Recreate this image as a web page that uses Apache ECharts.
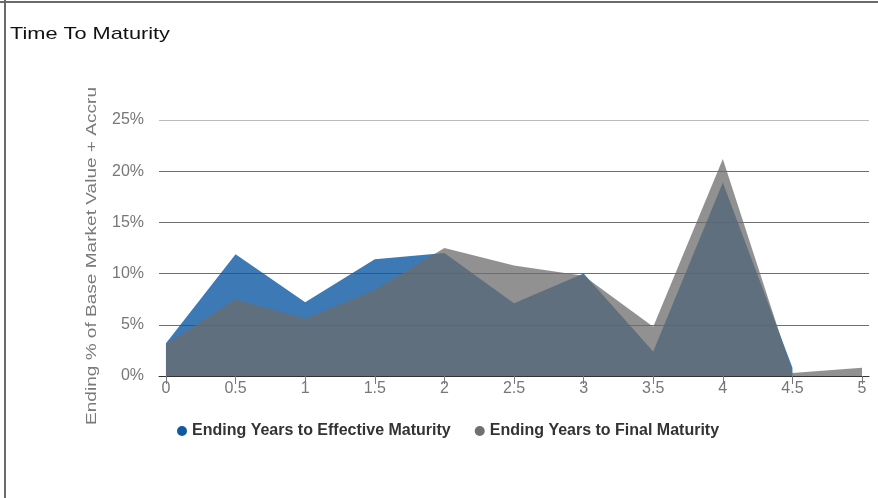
<!DOCTYPE html>
<html>
<head>
<meta charset="utf-8">
<script src="https://cdn.jsdelivr.net/npm/echarts@6/dist/echarts.min.js"></script>
<style>
html,body{margin:0;padding:0;background:#fff;}
#chart{width:878px;height:498px;}
</style>
</head>
<body>
<div id="chart"></div>
<script>
var years = [0, 0.5, 1, 1.5, 2, 2.5, 3, 3.5, 4, 4.5, 5];
var xTickLabels = [0, 0.5, 1, 1.5, 2, 2.5, 3, 3.5, 4, 4.5, 5];
var effectiveMaturity = [3.2, 11.9, 7.2, 11.4, 12.0, 7.1, 10.0, 2.4, 18.9, 0.8, null];
var finalMaturity = [3.1, 7.5, 5.6, 8.4, 12.5, 10.8, 9.8, 4.8, 21.2, 0.3, 0.8];
var seriesNames = ['Ending Years to Effective Maturity', 'Ending Years to Final Maturity'];
var titleText = 'Time To Maturity';
var yAxisTitle = 'Ending % of Base Market Value + Accru';

function pairs(vals) {
  return years.map(function (x, i) { return [x, vals[i]]; });
}

var FONT = 'Liberation Sans, Arial, sans-serif';
var chart = echarts.init(document.getElementById('chart'));
chart.setOption({
  animation: false,
  backgroundColor: '#fff',
  graphic: [
    { type: 'line', shape: { x1: 0, y1: 2, x2: 878, y2: 2 }, style: { stroke: '#6a6a6a', lineWidth: 2 } },
    { type: 'line', shape: { x1: 5, y1: 0, x2: 5, y2: 498 }, style: { stroke: '#6a6a6a', lineWidth: 2 } },
    { type: 'text', x: 10, y: 34, scaleX: 1.28, scaleY: 1,
      style: { text: titleText, font: '17px ' + FONT, fill: '#111', textAlign: 'left', textVerticalAlign: 'middle' } },
    { type: 'text', x: 92, y: 256, rotation: Math.PI / 2, scaleX: 1.27, scaleY: 1,
      style: { text: yAxisTitle, font: '15px ' + FONT, fill: '#7a7a7a', textAlign: 'center', textVerticalAlign: 'middle' } }
  ],
  legend: {
    left: 172, top: 418,
    icon: 'circle', itemWidth: 10, itemHeight: 10, itemGap: 24,
    textStyle: { fontFamily: FONT, fontSize: 16, fontWeight: 'bold', color: '#333' },
    data: seriesNames
  },
  grid: { left: 159, right: 9, top: 120, bottom: 122 },
  xAxis: {
    type: 'value', min: -0.05, max: 5.05,
    axisLine: { show: true, lineStyle: { color: '#333', width: 1 } },
    axisTick: { show: true, customValues: xTickLabels, length: 8, lineStyle: { color: '#777' } },
    axisLabel: { customValues: xTickLabels, margin: 5, fontFamily: FONT, fontSize: 16, color: '#777' },
    splitLine: { show: false }
  },
  yAxis: {
    type: 'value', min: 0, max: 25, interval: 5,
    axisLine: { show: false }, axisTick: { show: false },
    axisLabel: { formatter: '{value}%', margin: 15, fontFamily: FONT, fontSize: 16, color: '#777' },
    splitLine: { show: true, lineStyle: { color: ['#666', '#6f6f6f', '#6f6f6f', '#6f6f6f', '#6f6f6f', '#bbbbbb'], width: 1 } }
  },
  series: [
    {
      name: seriesNames[0], type: 'line', data: pairs(effectiveMaturity),
      showSymbol: false, symbol: 'none', connectNulls: false,
      itemStyle: { color: '#0d59a2' },
      lineStyle: { width: 0, opacity: 0 },
      areaStyle: { color: '#0d59a2', opacity: 0.8 },
      z: 2
    },
    {
      name: seriesNames[1], type: 'line', data: pairs(finalMaturity),
      showSymbol: false, symbol: 'none',
      itemStyle: { color: '#707070' },
      lineStyle: { width: 0, opacity: 0 },
      areaStyle: { color: '#6c6c6c', opacity: 0.75 },
      z: 3
    }
  ]
});
</script>
</body>
</html>
